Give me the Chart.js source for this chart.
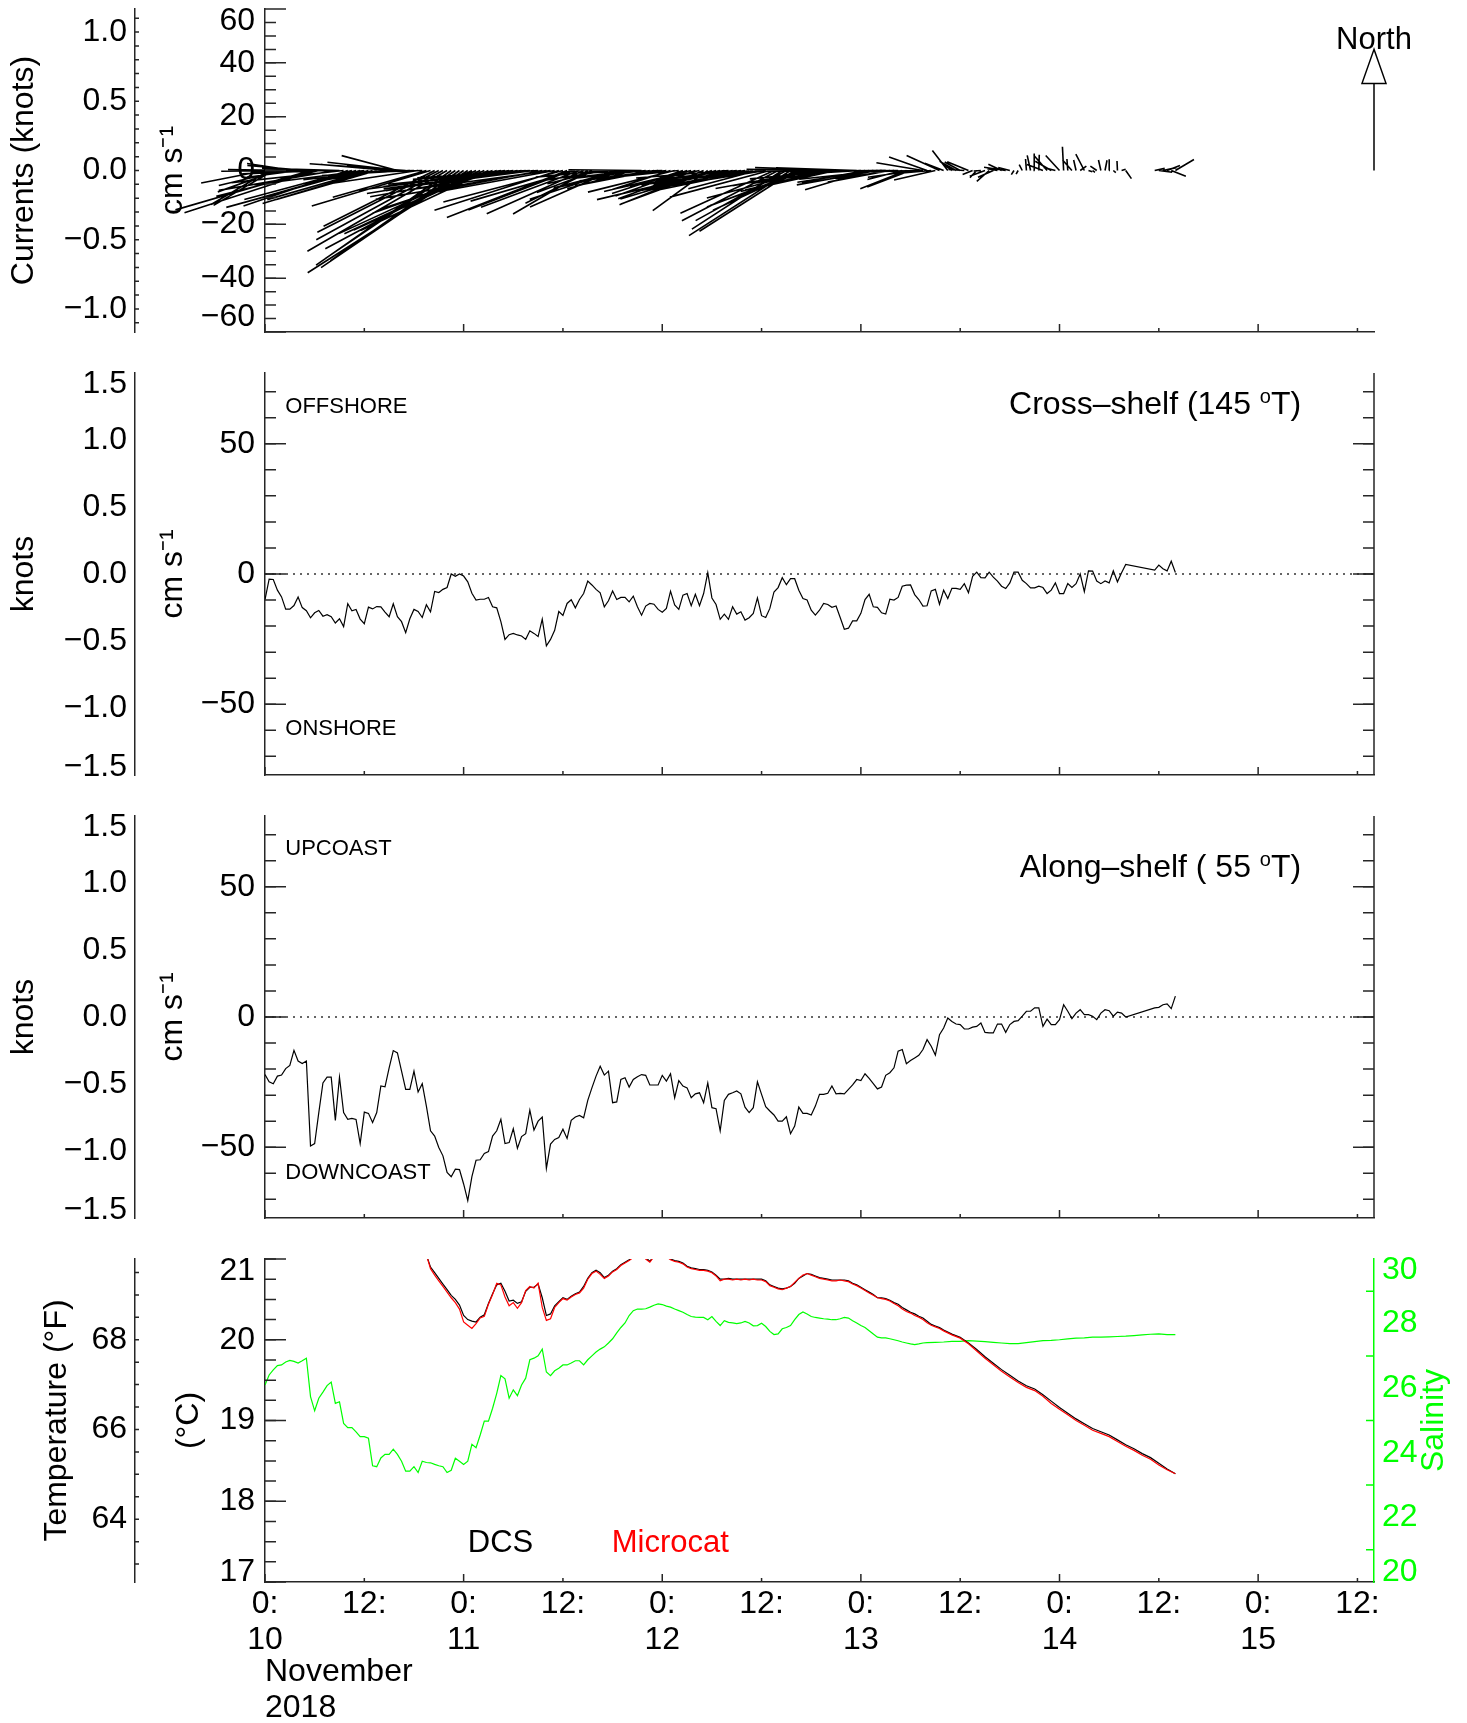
<!DOCTYPE html>
<html>
<head>
<meta charset="utf-8">
<script src="https://cdn.jsdelivr.net/npm/chart.js@4.4.0/dist/chart.umd.min.js"></script>
<style>
  html, body { margin: 0; padding: 0; background: #fff; overflow: hidden; }
  body { width: 1467px; height: 1723px; position: relative; }
  canvas { position: absolute; left: 0; }
</style>
</head>
<body>
<canvas id="sticks" width="1467" height="360" style="top:0px"></canvas>
<canvas id="cross" width="1467" height="462" style="top:343px"></canvas>
<canvas id="along" width="1467" height="462" style="top:786px"></canvas>
<canvas id="temp" width="1467" height="497" style="top:1229px"></canvas>
<script>
// time is hours after 10 Nov 2018 00:00
const T_MAX = 134;
const KNOT = 51.444; // cm/s per knot

function halfHours(from, to) {
  const out = [];
  for (let h = from; h <= to + 1e-9; h += 0.5) out.push(h);
  return out;
}
function wholeHours(from, to) {
  const out = [];
  for (let h = from; h <= to; h++) out.push(h);
  return out;
}

const dayTicks = [0, 12, 24, 36, 48, 60, 72, 84, 96, 108, 120, 132];
const dayTickLabels = [['0:', '10'], ['12:'], ['0:', '11'], ['12:'], ['0:', '12'], ['12:'],
                       ['0:', '13'], ['12:'], ['0:', '14'], ['12:'], ['0:', '15'], ['12:']];

// currents (cm/s), gap in the record between 104 h and 107.5 h
const currentHours = halfHours(0, 104).concat([107.5, 108, 108.5, 109, 109.5, 110]);
const crossShelf = [
  -9.8, -2.0, -2.1, -6.2, -8.8, -13.5, -13.5, -12.1, -8.8, -12.9,
  -14.1, -16.8, -14.9, -14.0, -16.2, -15.6, -16.4, -18.8, -17.2, -20.2,
  -11.4, -14.1, -13.6, -17.3, -19.1, -12.7, -13.4, -12.5, -12.6, -14.6,
  -16.4, -11.4, -16.4, -18.3, -22.5, -17.2, -13.6, -14.4, -16.7, -11.8,
  -14.5, -6.7, -7.1, -5.9, -5.2, 0.0, -0.9, 0.0, -0.8, -3.0,
  -7.4, -10.0, -9.7, -9.7, -9.0, -12.6, -13.0, -18.3, -25.1, -23.3,
  -22.8, -23.4, -23.8, -25.1, -21.8, -22.8, -24.0, -17.3, -27.6, -25.1,
  -21.6, -14.4, -15.9, -11.3, -9.9, -13.0, -9.8, -7.5, -2.7, -4.2,
  -5.9, -7.2, -12.6, -10.3, -6.5, -9.8, -9.0, -9.0, -10.7, -8.5,
  -12.6, -15.8, -12.3, -11.3, -11.6, -13.6, -14.7, -13.2, -6.6, -11.9,
  -13.6, -8.1, -7.5, -12.2, -7.8, -12.2, -7.5, 0.5, -9.2, -11.7,
  -17.4, -15.4, -17.4, -12.6, -15.4, -14.5, -17.7, -16.8, -15.1, -9.2,
  -16.0, -16.7, -13.2, -6.9, -5.2, -1.4, -4.1, -1.8, -1.8, -6.2,
  -9.4, -10.0, -13.9, -15.8, -13.9, -11.3, -11.7, -12.8, -12.3, -16.7,
  -21.2, -20.8, -18.0, -18.0, -15.1, -9.8, -7.8, -12.6, -12.8, -14.9,
  -15.4, -9.7, -10.0, -9.0, -4.7, -4.3, -4.2, -7.9, -9.8, -12.3,
  -12.2, -6.5, -5.9, -11.6, -6.2, -9.4, -5.5, -5.5, -5.9, -3.7,
  -7.2, -0.9, 0.7, -1.4, -1.5, 0.7, -1.2, -2.7, -4.7, -5.6,
  -3.4, 0.7, 0.7, -2.4, -3.7, -5.3, -5.3, -4.7, -5.2, -7.5,
  -6.2, -3.4, -7.5, -7.5, -3.7, -5.2, -3.7, 0.0, -6.8, 1.2,
  1.1, -2.7, -3.7, -2.7, -3.4, 1.2, -3.0, 0.5, 3.7,
  1.5, 3.4, 2.0, 1.2, 4.9, 0.6
];
const alongShelf = [
  -22.1, -24.9, -25.6, -22.7, -22.3, -19.8, -18.6, -12.8, -16.9, -17.9,
  -16.9, -49.5, -48.6, -36.7, -25.3, -23.1, -23.1, -39.7, -23.1, -36.7,
  -39.3, -38.9, -39.3, -48.6, -36.5, -37.0, -40.5, -36.7, -26.5, -26.8,
  -19.5, -12.9, -13.8, -20.8, -27.8, -27.8, -20.8, -28.8, -25.6, -34.2,
  -43.7, -45.7, -50.1, -53.3, -59.7, -61.3, -58.4, -58.6, -64.1, -70.5,
  -61.3, -55.0, -54.8, -52.4, -51.7, -45.7, -43.7, -39.3, -48.6, -48.2,
  -42.9, -50.4, -45.9, -44.8, -35.8, -43.4, -40.0, -38.4, -58.1, -48.8,
  -47.0, -46.3, -43.1, -46.6, -39.7, -38.4, -37.8, -38.7, -32.0, -27.2,
  -22.7, -18.9, -22.3, -20.8, -32.9, -32.6, -24.0, -23.3, -26.9, -24.0,
  -22.9, -22.1, -22.4, -26.1, -26.1, -26.1, -22.4, -24.6, -21.8, -31.0,
  -24.4, -26.5, -27.2, -31.0, -29.5, -29.1, -32.9, -25.3, -34.8, -35.2,
  -43.7, -32.0, -29.7, -29.1, -28.4, -29.5, -34.6, -36.7, -34.8, -24.9,
  -29.7, -34.4, -36.1, -37.6, -40.0, -40.0, -38.3, -44.8, -41.9, -34.6,
  -37.0, -37.0, -37.6, -34.2, -29.7, -29.7, -29.3, -26.5, -29.5, -29.3,
  -29.5, -27.8, -26.1, -24.0, -24.4, -21.8, -23.6, -25.6, -27.6, -26.9,
  -22.4, -21.4, -19.5, -13.1, -12.5, -17.9, -16.7, -15.7, -14.7, -12.5,
  -8.7, -11.2, -14.6, -6.8, -4.2, -0.4, -1.7, -2.7, -2.9, -4.6,
  -4.6, -3.9, -3.6, -2.3, -5.9, -6.1, -6.1, -2.7, -2.7, -5.9,
  -2.9, -1.7, -1.4, 0.3, 2.2, 2.2, 3.5, 3.5, -3.6, -0.8,
  -2.9, -2.9, -1.0, 4.7, 2.2, -0.6, 1.5, 2.8, 0.9, 0.9,
  0.3, -1.0, 1.5, 2.8, 2.4, 0.3, 1.9, 1.5, 0.0,
  3.5, 3.7, 4.7, 5.0, 3.2, 8.0
];
const CROSS_DIR = 145; // degrees true
const ALONG_DIR = 55;
const NORTH_REF = 45;  // cm/s, length of the north reference arrow

const salinityHours = halfHours(0, 80).concat(wholeHours(81, 110));
const salinity = [
  26.10, 26.41, 26.57, 26.70, 26.72, 26.81, 26.86, 26.83, 26.78, 26.85,
  26.93, 25.74, 25.30, 25.69, 25.88, 26.08, 26.19, 25.53, 25.58, 24.91,
  24.78, 24.78, 24.65, 24.50, 24.50, 24.45, 23.60, 23.57, 23.84, 23.95,
  23.95, 24.11, 23.95, 23.74, 23.43, 23.43, 23.57, 23.39, 23.74, 23.70,
  23.69, 23.64, 23.60, 23.57, 23.39, 23.46, 23.83, 23.74, 23.64, 23.74,
  24.26, 24.16, 24.55, 24.98, 24.98, 25.38, 25.84, 26.39, 26.29, 25.69,
  25.95, 25.77, 26.10, 26.31, 26.88, 26.93, 27.00, 27.21, 26.50, 26.39,
  26.54, 26.62, 26.72, 26.72, 26.78, 26.85, 26.85, 26.72, 26.88, 27.00,
  27.12, 27.21, 27.28, 27.40, 27.53, 27.71, 27.88, 28.02, 28.25, 28.40,
  28.45, 28.45, 28.46, 28.51, 28.57, 28.61, 28.59, 28.54, 28.51, 28.45,
  28.40, 28.35, 28.28, 28.22, 28.20, 28.19, 28.19, 28.12, 28.22, 28.07,
  27.94, 28.09, 28.04, 28.02, 28.00, 28.02, 28.07, 28.02, 27.93, 27.94,
  28.01, 27.91, 27.76, 27.66, 27.68, 27.84, 27.88, 27.94, 28.12, 28.28,
  28.36, 28.30, 28.22, 28.19, 28.17, 28.15, 28.14, 28.12, 28.12, 28.15,
  28.19, 28.17, 28.09, 28.02, 27.94, 27.88, 27.78, 27.68, 27.58, 27.56,
  27.56, 27.53, 27.50, 27.47, 27.43, 27.40, 27.37, 27.35, 27.37, 27.40,
  27.41,
  27.42, 27.43, 27.45, 27.45, 27.47, 27.46, 27.44, 27.42, 27.40, 27.38,
  27.38, 27.41, 27.44, 27.47, 27.48, 27.50, 27.53, 27.55, 27.56, 27.58,
  27.58, 27.59, 27.60, 27.61, 27.63, 27.65, 27.67, 27.68, 27.66, 27.66
];

// water temperature (deg C)
const tempHours = halfHours(19.5, 82).concat(wholeHours(83, 110));
const tempDCS = [
  21.05, 20.90, 20.83, 20.76, 20.69, 20.62, 20.55, 20.50, 20.43, 20.30,
  20.25, 20.23, 20.22, 20.28, 20.31, 20.45, 20.57, 20.68, 20.70, 20.60,
  20.48, 20.49, 20.45, 20.47, 20.60, 20.65, 20.65, 20.69, 20.52, 20.30,
  20.32, 20.42, 20.47, 20.52, 20.50, 20.54, 20.57, 20.59, 20.66, 20.76,
  20.83, 20.86, 20.83, 20.77, 20.80, 20.85, 20.88, 20.93, 20.96, 20.99,
  21.03, 21.06, 21.08, 21.02, 20.97, 21.04, 21.08, 21.08, 21.04, 21.00,
  20.98, 20.97, 20.95, 20.91, 20.89, 20.88, 20.87, 20.87, 20.86, 20.84,
  20.80, 20.75, 20.75, 20.76, 20.75, 20.75, 20.75, 20.75, 20.75, 20.75,
  20.75, 20.75, 20.73, 20.68, 20.66, 20.64, 20.63, 20.64, 20.66, 20.70,
  20.76, 20.79, 20.82, 20.81, 20.79, 20.77, 20.76, 20.75, 20.74, 20.74,
  20.74, 20.74, 20.73, 20.70, 20.68, 20.65, 20.62, 20.59, 20.56, 20.52,
  20.52, 20.51, 20.49, 20.46, 20.44, 20.40, 20.37, 20.34, 20.32, 20.29,
  20.27, 20.23, 20.19, 20.17, 20.15, 20.12,
  20.07, 20.03, 19.96, 19.88, 19.79, 19.71, 19.63, 19.56, 19.49, 19.43,
  19.39, 19.32, 19.24, 19.16, 19.09, 19.02, 18.96, 18.90, 18.86, 18.82,
  18.76, 18.70, 18.65, 18.59, 18.54, 18.47, 18.40, 18.34
];
const tempMicrocat = [
  21.05, 20.88, 20.80, 20.73, 20.66, 20.59, 20.52, 20.46, 20.38, 20.22,
  20.18, 20.14, 20.20, 20.27, 20.29, 20.44, 20.56, 20.70, 20.68, 20.53,
  20.42, 20.46, 20.39, 20.46, 20.61, 20.66, 20.64, 20.70, 20.40, 20.24,
  20.26, 20.40, 20.46, 20.51, 20.49, 20.53, 20.56, 20.58, 20.64, 20.75,
  20.82, 20.85, 20.81, 20.76, 20.79, 20.84, 20.87, 20.92, 20.95, 20.98,
  21.02, 21.05, 21.07, 21.00, 20.96, 21.03, 21.07, 21.07, 21.03, 20.99,
  20.97, 20.96, 20.94, 20.90, 20.88, 20.87, 20.86, 20.86, 20.85, 20.83,
  20.79, 20.73, 20.75, 20.75, 20.74, 20.75, 20.74, 20.75, 20.74, 20.75,
  20.74, 20.74, 20.72, 20.67, 20.65, 20.63, 20.62, 20.64, 20.66, 20.71,
  20.76, 20.80, 20.82, 20.80, 20.78, 20.76, 20.75, 20.74, 20.73, 20.73,
  20.74, 20.73, 20.72, 20.69, 20.67, 20.64, 20.61, 20.58, 20.55, 20.52,
  20.51, 20.50, 20.48, 20.45, 20.42, 20.38, 20.35, 20.33, 20.30, 20.28,
  20.25, 20.21, 20.18, 20.16, 20.14, 20.11,
  20.06, 20.02, 19.95, 19.86, 19.77, 19.69, 19.61, 19.54, 19.47, 19.41,
  19.37, 19.30, 19.21, 19.14, 19.07, 19.00, 18.94, 18.88, 18.84, 18.80,
  18.74, 18.68, 18.63, 18.57, 18.52, 18.45, 18.39, 18.34
];

// tick labels; the end labels sit a little inside the axis, as in the original
const stickTickAt = [-54.5, -40, -20, 0, 20, 40, 55.5];
const stickTickLabels = ['\u221260', '\u221240', '\u221220', '0', '20', '40', '60'];
const stickKnotAt = [-1, -0.5, 0, 0.5, 1];
const stickKnotLabels = ['\u22121.0', '\u22120.5', '0.0', '0.5', '1.0'];
const shelfTickAt = [-50, 0, 50];
const shelfTickLabels = ['\u221250', '0', '50'];
const shelfKnotAt = [-1.445, -1, -0.5, 0, 0.5, 1, 1.42];
const shelfKnotLabels = ['\u22121.5', '\u22121.0', '\u22120.5', '0.0', '0.5', '1.0', '1.5'];
const tempTickAt = [17.12, 18, 19, 20, 20.85];
const tempTickLabels = ['17', '18', '19', '20', '21'];
const tempFAt = [64, 66, 68];
const tempFLabels = ['64', '66', '68'];
const salTickAt = [20.3, 22, 24, 26, 28, 29.65];
const salTickLabels = ['20', '22', '24', '26', '28', '30'];

const FONT = "'Liberation Sans', Arial, Helvetica, sans-serif";
const BIG = 32;
const INK = '#000';
const AXIS = '#262626';
const GREEN = '#00ff00';
const RED = '#ff0000';
Chart.defaults.font.family = FONT;
Chart.defaults.color = INK;

const c2f = c => c * 9 / 5 + 32;

function steps(from, to, step) {
  const out = [];
  const n = Math.round((to - from) / step);
  for (let i = 0; i <= n; i++) out.push(Math.round((from + i * step) * 1000) / 1000);
  return out;
}
function font(size, lh) { return { family: FONT, size: size, lineHeight: lh || 1.2 }; }
function fixedBox(size, horizontal) {
  return s => {
    if (horizontal) s.height = size; else s.width = size;
    s.paddingTop = s.paddingBottom = s.paddingLeft = s.paddingRight = 0;
  };
}

function timeAxis(showLabels) {
  return {
    type: 'linear', position: 'bottom', min: 0, max: T_MAX,
    grid: { display: false, drawTicks: false },
    border: { display: true, color: AXIS, width: 1.5 },
    afterBuildTicks: s => { s.ticks = dayTicks.map(v => ({ value: v })); },
    ticks: { display: showLabels, autoSkip: false, maxRotation: 0, minRotation: 0, padding: 4,
             color: INK, font: font(BIG, 1.12), callback: (v, i) => dayTickLabels[i] },
    title: { display: showLabels, text: ['November', '2018'], align: 'start', color: INK,
             font: font(BIG, 1.12), padding: 0 },
    afterFit: fixedBox(showLabels ? 144 : 0, true)
  };
}

function valueAxis(o) {
  return {
    type: 'linear', position: o.position || 'left', weight: o.weight || 0,
    min: o.min, max: o.max,
    grid: { display: false, drawTicks: false },
    border: { display: true, color: o.color || AXIS, width: 1.5 },
    afterBuildTicks: s => { s.ticks = o.at.map(v => ({ value: v })); },
    ticks: { autoSkip: false, padding: o.pad, color: o.color || INK, font: font(BIG),
             callback: (v, i) => o.labels[i] },
    title: { display: !!o.title, text: o.title || '', color: INK, font: font(BIG),
             padding: { top: o.titlePad || 0, bottom: 0 } },
    afterFit: fixedBox(o.width, false)
  };
}

function baseOptions(pad, scales) {
  return {
    responsive: false, animation: false, events: [],
    layout: { padding: pad, autoPadding: false },
    plugins: { legend: { display: false }, tooltip: { enabled: false } },
    scales: scales
  };
}

// inward tick marks, drawn from the scales
function tickMarks(sets) {
  return {
    id: 'tickMarks',
    afterDraw(chart) {
      const ctx = chart.ctx, area = chart.chartArea;
      ctx.save();
      ctx.lineWidth = 1.5;
      sets.forEach(set => {
        const s = chart.scales[set.scale];
        ctx.strokeStyle = set.color || AXIS;
        ctx.beginPath();
        if (set.frame) {
          ctx.moveTo(area.right, area.top);
          ctx.lineTo(area.right, area.bottom);
        }
        set.values.forEach(v => {
          const p = s.getPixelForValue(v);
          if (s.isHorizontal()) {
            ctx.moveTo(p, area.bottom);
            ctx.lineTo(p, area.bottom - set.len);
          } else {
            const onRight = set.side === 'right' || s.position === 'right';
            const x0 = set.side === 'right' ? area.right : (s.position === 'right' ? s.left : s.right);
            ctx.moveTo(x0, p);
            ctx.lineTo(x0 + (onRight ? -set.len : set.len), p);
          }
        });
        ctx.stroke();
      });
      ctx.restore();
    }
  };
}
const dayMarks = [
  { scale: 'x', values: [0, 24, 48, 72, 96, 120], len: 8 },
  { scale: 'x', values: [12, 36, 60, 84, 108, 132], len: 4 }
];

function drawRich(ctx, parts, x, y, align, size, color) {
  const supSize = Math.round(size * 0.62);
  const widths = parts.map(p => {
    ctx.font = (p.sup ? supSize : size) + 'px ' + FONT;
    return ctx.measureText(p.t).width;
  });
  const total = widths.reduce((a, b) => a + b, 0);
  let cx = align === 'right' ? x - total : (align === 'center' ? x - total / 2 : x);
  ctx.fillStyle = color;
  ctx.textAlign = 'left';
  ctx.textBaseline = 'alphabetic';
  parts.forEach((p, i) => {
    ctx.font = (p.sup ? supSize : size) + 'px ' + FONT;
    ctx.fillText(p.t, cx, p.sup ? y - size * 0.33 : y);
    cx += widths[i];
  });
}

// text placed at (hours, value) on the panel's scales; y is the text baseline
function notes(yId, items) {
  return {
    id: 'notes',
    afterDraw(chart) {
      const ctx = chart.ctx, xs = chart.scales.x, ys = chart.scales[yId];
      ctx.save();
      items.forEach(it => drawRich(ctx, it.parts, xs.getPixelForValue(it.x), ys.getPixelForValue(it.y),
                                   it.align || 'left', it.size, it.color || INK));
      ctx.restore();
    }
  };
}

const northArrow = {
  id: 'northArrow',
  afterDraw(chart) {
    const ctx = chart.ctx;
    const x = chart.scales.x.getPixelForValue(T_MAX);
    const y0 = chart.scales.y.getPixelForValue(0);
    const tip = chart.scales.y.getPixelForValue(NORTH_REF);
    const headH = 34, headW = 12;
    ctx.save();
    ctx.strokeStyle = INK;
    ctx.lineWidth = 1.5;
    ctx.beginPath();
    ctx.moveTo(x, y0);
    ctx.lineTo(x, tip + headH);
    ctx.stroke();
    ctx.beginPath();
    ctx.moveTo(x, tip);
    ctx.lineTo(x - headW, tip + headH);
    ctx.lineTo(x + headW, tip + headH);
    ctx.closePath();
    ctx.fillStyle = '#fff';
    ctx.fill();
    ctx.stroke();
    ctx.fillStyle = INK;
    ctx.font = '31px ' + FONT;
    ctx.textAlign = 'center';
    ctx.textBaseline = 'alphabetic';
    ctx.fillText('North', x, tip);
    ctx.restore();
  }
};

const salinityTitle = {
  id: 'salinityTitle',
  afterDraw(chart) {
    const s = chart.scales.ys, a = chart.chartArea, ctx = chart.ctx;
    ctx.save();
    ctx.translate(s.left + 60, (a.top + a.bottom) / 2);
    ctx.rotate(-Math.PI / 2);
    ctx.font = BIG + 'px ' + FONT;
    ctx.fillStyle = GREEN;
    ctx.textAlign = 'center';
    ctx.textBaseline = 'middle';
    ctx.fillText('Salinity', 0, 0);
    ctx.restore();
  }
};

const series = (xs, ys) => ys.map((v, i) => ({ x: xs[i], y: v }));
const zeroLine = { data: [{ x: 0, y: 0 }, { x: T_MAX, y: 0 }], borderColor: '#333', borderWidth: 1.5,
                   borderDash: [2, 5], pointRadius: 0 };

// ---------- panel 1: current sticks ----------
function stickSegments(hoursPerCm) {
  const rad = Math.PI / 180;
  const pts = [];
  currentHours.forEach((t, i) => {
    const c = crossShelf[i], a = alongShelf[i];
    const east = c * Math.sin(CROSS_DIR * rad) + a * Math.sin(ALONG_DIR * rad);
    const north = c * Math.cos(CROSS_DIR * rad) + a * Math.cos(ALONG_DIR * rad);
    pts.push({ x: t, y: 0 }, { x: t + east * hoursPerCm, y: north }, { x: t, y: null });
  });
  return pts;
}

const stickChart = new Chart(document.getElementById('sticks'), {
  type: 'line',
  data: { datasets: [{ data: [], borderColor: INK, borderWidth: 1.6, pointRadius: 0,
                       clip: false, spanGaps: false, tension: 0 }] },
  options: baseOptions({ top: 9, bottom: 28, left: 0, right: 93 }, {
    x: timeAxis(false),
    y: valueAxis({ min: -60, max: 60, at: stickTickAt, labels: stickTickLabels, width: 130, pad: 10,
                   title: 'cm s\u207B\u00B9', titlePad: 19 }),
    yk: valueAxis({ min: -60 / KNOT, max: 60 / KNOT, at: stickKnotAt, labels: stickKnotLabels,
                    width: 135, pad: 8, weight: 1, title: 'Currents (knots)', titlePad: 5 })
  }),
  plugins: [tickMarks(dayMarks.concat([
    { scale: 'y', values: steps(-55, 55, 5), len: 11 },
    { scale: 'y', values: [-60, -40, -20, 0, 20, 40, 60], len: 21 },
    { scale: 'yk', values: steps(-1.1, 1.1, 0.1), len: 4 }
  ])), northArrow]
});
// the sticks need equal pixel scaling for east and north, so take it from the laid-out scales
(function () {
  const xs = stickChart.scales.x, ys = stickChart.scales.y;
  const hoursPerCm = (ys.getPixelForValue(0) - ys.getPixelForValue(1)) /
                     (xs.getPixelForValue(1) - xs.getPixelForValue(0));
  stickChart.data.datasets[0].data = stickSegments(hoursPerCm);
  stickChart.update('none');
})();

// ---------- panels 2 and 3: cross- and along-shelf ----------
function shelfPanel(id, values, texts) {
  const lim = 1.5 * KNOT;
  return new Chart(document.getElementById(id), {
    type: 'line',
    data: { datasets: [
      { data: series(currentHours, values), borderColor: INK, borderWidth: 1.2, pointRadius: 0, tension: 0 },
      zeroLine
    ] },
    options: baseOptions({ top: 30, bottom: 30, left: 0, right: 93 }, {
      x: timeAxis(false),
      y: valueAxis({ min: -lim, max: lim, at: shelfTickAt, labels: shelfTickLabels, width: 130, pad: 10,
                     title: 'cm s\u207B\u00B9', titlePad: 19 }),
      yk: valueAxis({ min: -1.5, max: 1.5, at: shelfKnotAt, labels: shelfKnotLabels, width: 135, pad: 8,
                      weight: 1, title: 'knots', titlePad: 5 })
    }),
    plugins: [tickMarks(dayMarks.concat([
      { scale: 'y', values: steps(-70, 70, 10), len: 11 },
      { scale: 'y', values: [-50, 0, 50], len: 21 },
      { scale: 'y', side: 'right', frame: true, values: steps(-70, 70, 10), len: 11 },
      { scale: 'y', side: 'right', values: [-50, 0, 50], len: 21 }
    ])), notes('y', texts)]
  });
}

shelfPanel('cross', crossShelf, [
  { x: 2.45, y: 61.8, size: 22, parts: [{ t: 'OFFSHORE' }] },
  { x: 2.45, y: -61.9, size: 22, parts: [{ t: 'ONSHORE' }] },
  { x: 125.2, y: 61.5, size: BIG, align: 'right',
    parts: [{ t: 'Cross\u2013shelf (145 ' }, { t: 'o', sup: true }, { t: 'T)' }] }
]);
shelfPanel('along', alongShelf, [
  { x: 2.45, y: 62.1, size: 22, parts: [{ t: 'UPCOAST' }] },
  { x: 2.45, y: -62.2, size: 22, parts: [{ t: 'DOWNCOAST' }] },
  { x: 125.2, y: 53.8, size: BIG, align: 'right',
    parts: [{ t: 'Along\u2013shelf ( 55 ' }, { t: 'o', sup: true }, { t: 'T)' }] }
]);

// ---------- panel 4: temperature and salinity ----------
new Chart(document.getElementById('temp'), {
  type: 'line',
  data: { datasets: [
    { data: series(tempHours, tempMicrocat), borderColor: RED, borderWidth: 1.2, pointRadius: 0, yAxisID: 'y' },
    { data: series(tempHours, tempDCS), borderColor: INK, borderWidth: 1.2, pointRadius: 0, yAxisID: 'y' },
    { data: series(salinityHours, salinity), borderColor: GREEN, borderWidth: 1.2, pointRadius: 0, yAxisID: 'ys' }
  ] },
  options: baseOptions({ top: 30, bottom: 0, left: 0, right: 0 }, {
    x: timeAxis(true),
    y: valueAxis({ min: 17, max: 21, at: tempTickAt, labels: tempTickLabels, width: 130, pad: 10,
                   title: '(\u00B0C)', titlePad: 35 }),
    yk: valueAxis({ min: c2f(17), max: c2f(21), at: tempFAt, labels: tempFLabels, width: 135, pad: 8,
                    weight: 1, title: 'Temperature (\u00B0F)', titlePad: 38 }),
    ys: valueAxis({ position: 'right', min: 20, max: 30, at: salTickAt, labels: salTickLabels,
                    width: 93, pad: 8, color: GREEN })
  }),
  plugins: [tickMarks(dayMarks.concat([
    { scale: 'y', values: steps(17, 21, 0.25), len: 11 },
    { scale: 'y', values: [17, 18, 19, 20, 21], len: 21 },
    { scale: 'yk', values: steps(63, 69.5, 0.5), len: 4 },
    { scale: 'ys', values: [21, 23, 25, 27, 29], len: 8, color: GREEN }
  ])), notes('y', [
    { x: 24.5, y: 17.37, size: 31, parts: [{ t: 'DCS' }] },
    { x: 41.9, y: 17.37, size: 31, color: RED, parts: [{ t: 'Microcat' }] }
  ]), salinityTitle]
});
</script>
</body>
</html>
